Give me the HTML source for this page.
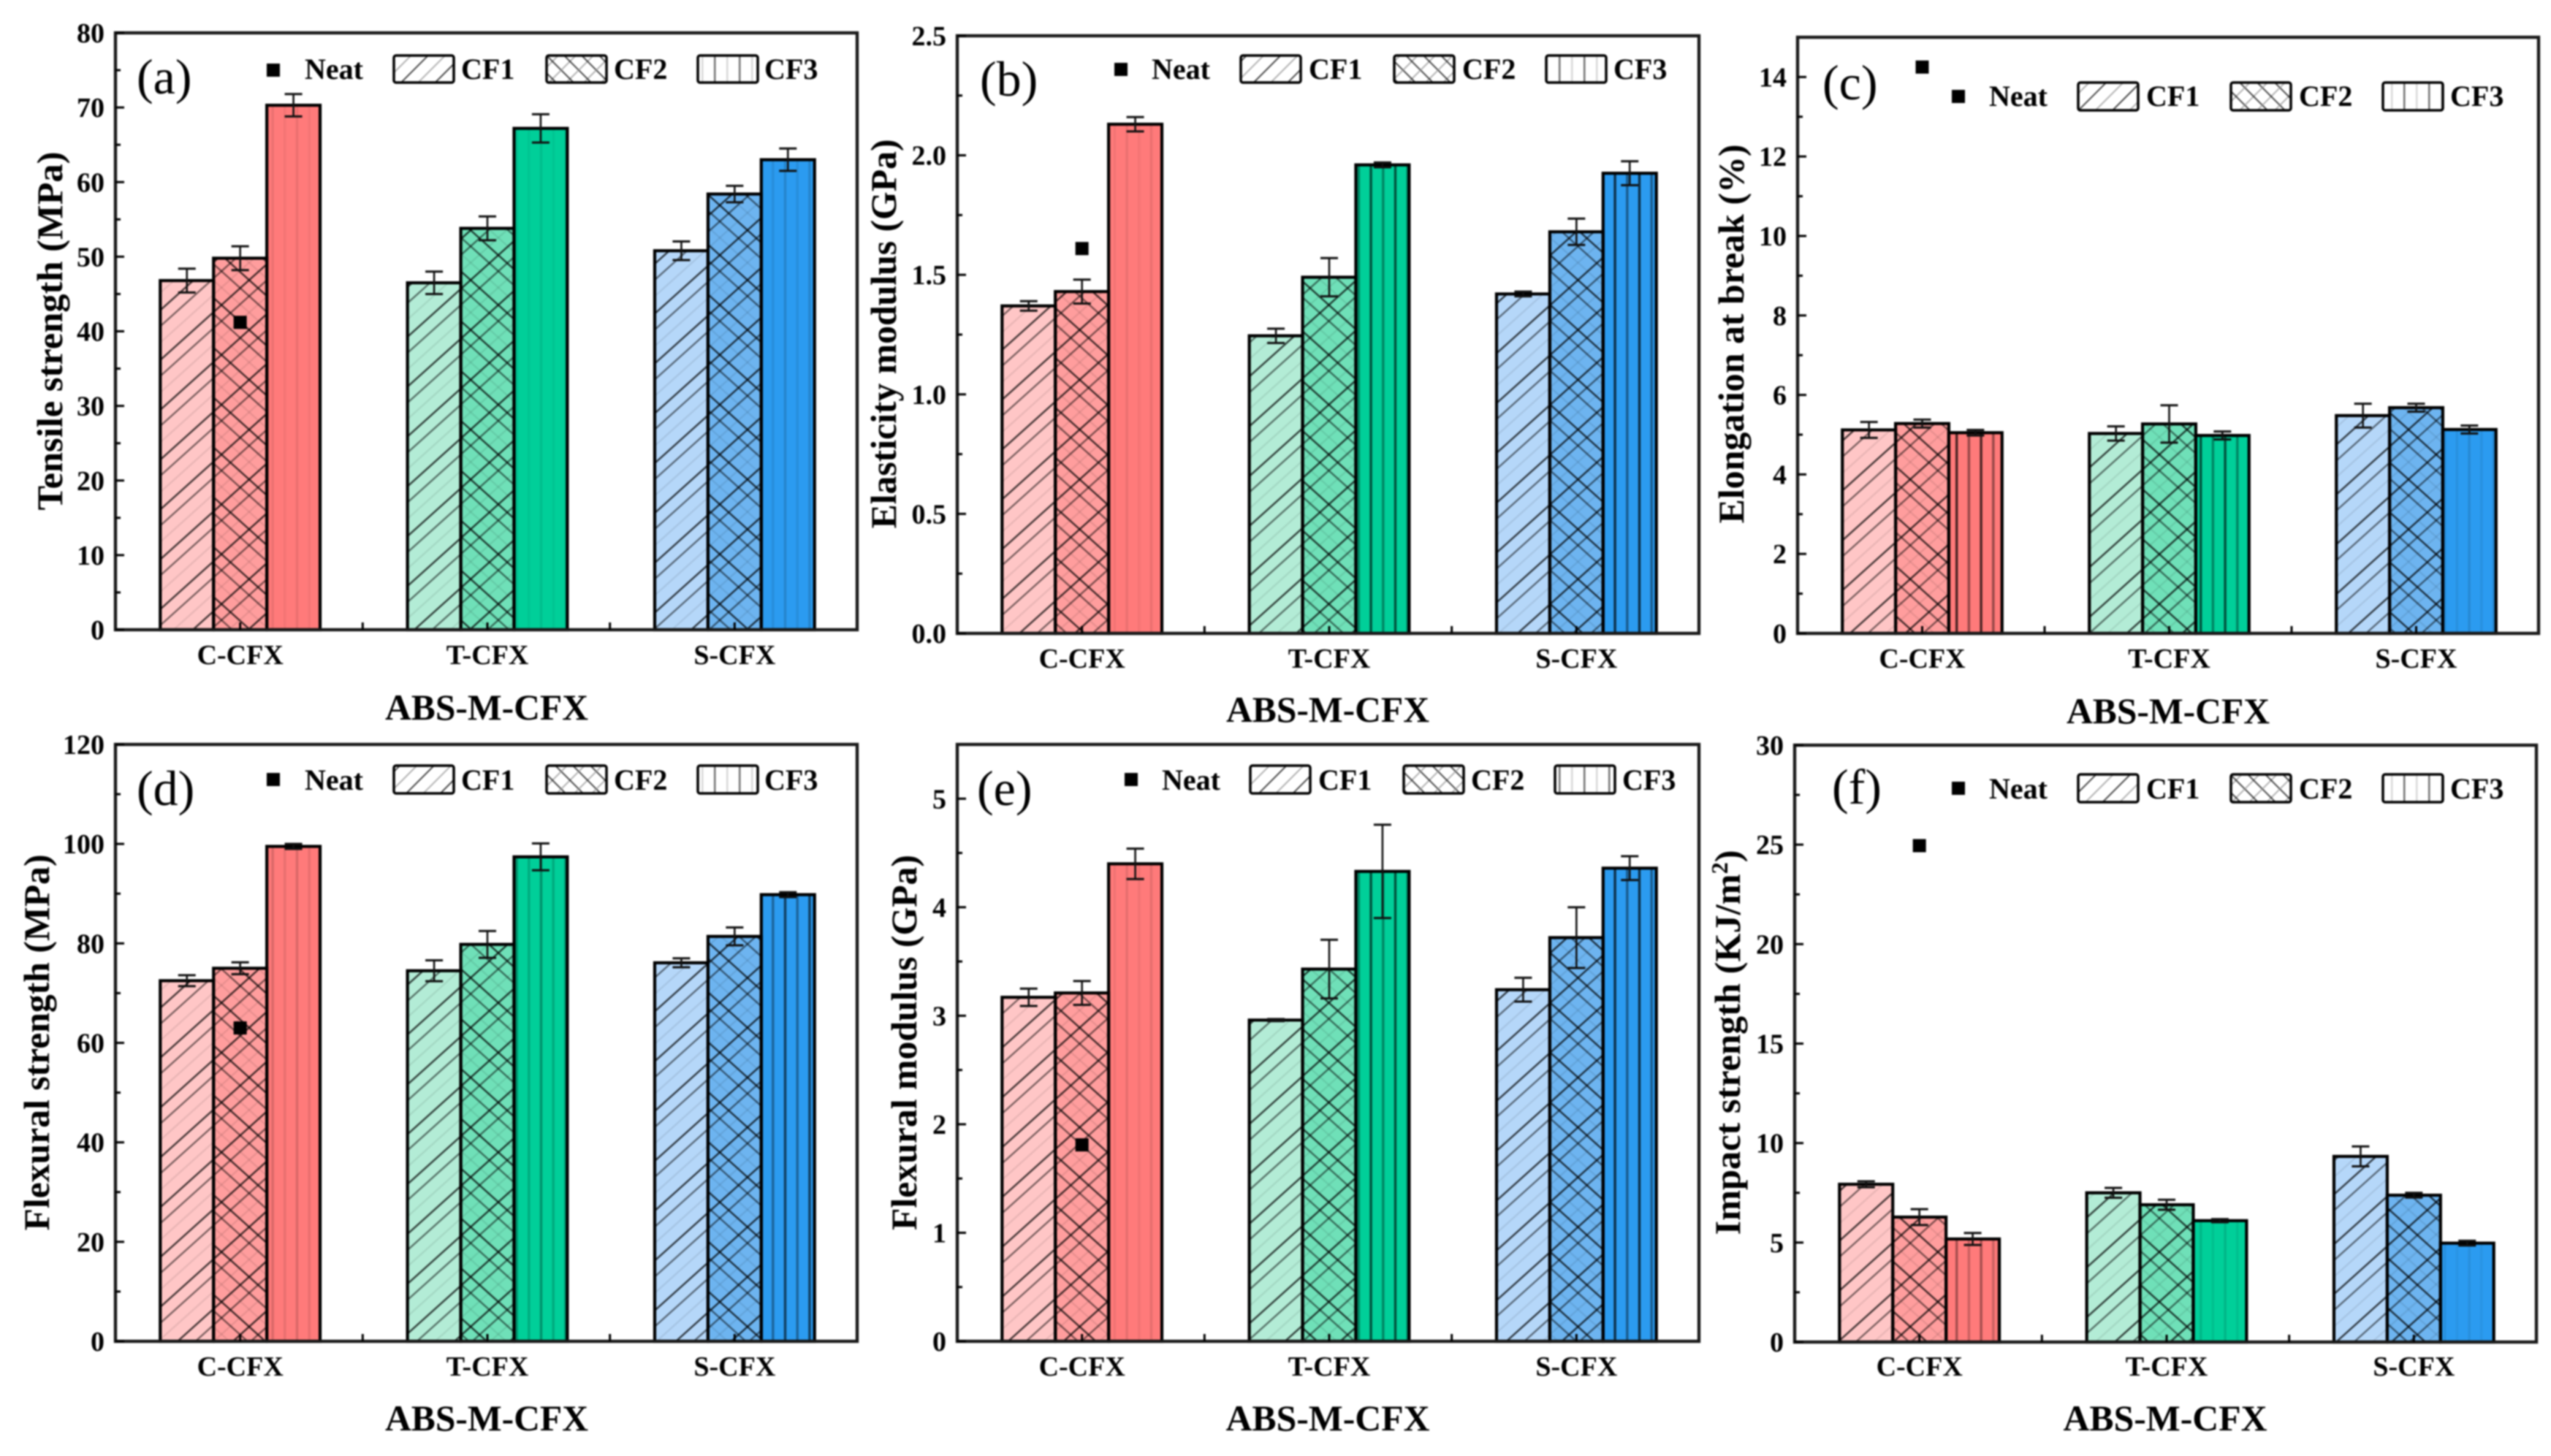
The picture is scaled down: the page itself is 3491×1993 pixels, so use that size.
<!DOCTYPE html>
<html lang="en">
<head>
<meta charset="utf-8">
<title>ABS-M-CFX mechanical properties</title>
<style>
html,body{margin:0;padding:0;background:#fff;width:3491px;height:1993px;overflow:hidden}
svg{display:block;filter:blur(1px)}
text{font-family:"Liberation Serif",serif;font-weight:700;fill:#000}
.legend{font-size:40px}
.title{font-size:50px}
.panel-label{font-size:68px;font-weight:400}
.tick{font-size:38px}
</style>
</head>
<body>
<svg id="figure" xmlns="http://www.w3.org/2000/svg" width="3491" height="1993" viewBox="0 0 3491 1993">
<defs>
<pattern id="hatch-up" width="50.7" height="50.7" patternUnits="userSpaceOnUse" patternTransform="rotate(-42)">
<line x1="0" x2="50.7" y1="6" y2="6" stroke="#000" stroke-width="2.4" stroke-opacity=".75"/>
<line x1="0" x2="50.7" y1="22.4" y2="22.4" stroke="#000" stroke-width="2.2" stroke-opacity=".55"/>
<line x1="0" x2="50.7" y1="39" y2="39" stroke="#000" stroke-width="2" stroke-opacity=".1"/>
</pattern>
<pattern id="hatch-down" width="50.7" height="50.7" patternUnits="userSpaceOnUse" patternTransform="rotate(42)">
<line x1="0" x2="50.7" y1="6" y2="6" stroke="#000" stroke-width="2.4" stroke-opacity=".75"/>
<line x1="0" x2="50.7" y1="22.4" y2="22.4" stroke="#000" stroke-width="2.2" stroke-opacity=".55"/>
<line x1="0" x2="50.7" y1="39" y2="39" stroke="#000" stroke-width="2" stroke-opacity=".1"/>
</pattern>
<pattern id="hatch-vert" width="33.4" height="10" patternUnits="userSpaceOnUse">
<rect x="4" y="0" width="3.4" height="10" fill="#000"/>
<rect x="20.7" y="0" width="3.4" height="10" fill="#000" fill-opacity=".6"/>
</pattern>
<pattern id="legend-cf1" width="33" height="33" patternUnits="userSpaceOnUse" patternTransform="rotate(-45)">
<rect width="33" height="33" fill="#fff"/>
<line x1="0" x2="33" y1="6" y2="6" stroke="#000" stroke-width="2" stroke-opacity=".7"/>
<line x1="0" x2="33" y1="22.5" y2="22.5" stroke="#000" stroke-width="2" stroke-opacity=".3"/>
</pattern>
<pattern id="legend-cf2" width="24" height="24" patternUnits="userSpaceOnUse">
<rect width="24" height="24" fill="#fff"/>
<line x1="0" y1="0" x2="24" y2="24" stroke="#000" stroke-width="2" stroke-opacity=".7"/>
<line x1="24" y1="0" x2="0" y2="24" stroke="#000" stroke-width="2" stroke-opacity=".3"/>
</pattern>
<pattern id="legend-cf3" width="34" height="10" patternUnits="userSpaceOnUse">
<rect width="34" height="10" fill="#fff"/>
<rect x="8" width="2.5" height="10" fill="#000" fill-opacity=".15"/>
<rect x="25" width="2.5" height="10" fill="#000" fill-opacity=".55"/>
</pattern>
</defs>

<g id="panel-a">
<text class="panel-label" x="187" y="128">(a)</text>
<text class="title" transform="rotate(-90 85 453)" x="85" y="453" text-anchor="middle" textLength="491" lengthAdjust="spacingAndGlyphs">Tensile strength (MPa)</text>
<text class="title" x="666" y="985" text-anchor="middle" textLength="278" lengthAdjust="spacingAndGlyphs">ABS-M-CFX</text>
<g>
<rect x="365" y="87" width="18" height="18" fill="#000"/>
<text class="legend" x="417" y="108">Neat</text>
<rect x="539" y="76" width="82" height="37" rx="3" fill="url(#legend-cf1)" stroke="#000" stroke-width="3.5"/>
<text class="legend" x="631" y="108">CF1</text>
<rect x="748" y="76" width="82" height="37" rx="3" fill="url(#legend-cf2)" stroke="#000" stroke-width="3.5"/>
<text class="legend" x="840" y="108">CF2</text>
<rect x="955" y="76" width="82" height="37" rx="3" fill="url(#legend-cf3)" stroke="#000" stroke-width="3.5"/>
<text class="legend" x="1046" y="108">CF3</text>
</g>
</g>

<g id="panel-b">
<text class="panel-label" x="1341" y="131">(b)</text>
<text class="title" transform="rotate(-90 1226 457)" x="1226" y="457" text-anchor="middle" textLength="533" lengthAdjust="spacingAndGlyphs">Elasticity modulus (GPa)</text>
<text class="title" x="1817" y="988" text-anchor="middle" textLength="278" lengthAdjust="spacingAndGlyphs">ABS-M-CFX</text>
<g>
<rect x="1525" y="86" width="18" height="18" fill="#000"/>
<text class="legend" x="1576" y="108">Neat</text>
<rect x="1698" y="76" width="82" height="37" rx="3" fill="url(#legend-cf1)" stroke="#000" stroke-width="3.5"/>
<text class="legend" x="1791" y="108">CF1</text>
<rect x="1908" y="76" width="82" height="37" rx="3" fill="url(#legend-cf2)" stroke="#000" stroke-width="3.5"/>
<text class="legend" x="2001" y="108">CF2</text>
<rect x="2116" y="76" width="82" height="37" rx="3" fill="url(#legend-cf3)" stroke="#000" stroke-width="3.5"/>
<text class="legend" x="2208" y="108">CF3</text>
</g>
</g>

<g id="panel-c">
<text class="panel-label" x="2494" y="136">(c)</text>
<text class="title" transform="rotate(-90 2386 457)" x="2386" y="457" text-anchor="middle" textLength="519" lengthAdjust="spacingAndGlyphs">Elongation at break (%)</text>
<text class="title" x="2967" y="990" text-anchor="middle" textLength="278" lengthAdjust="spacingAndGlyphs">ABS-M-CFX</text>
<g>
<rect x="2671" y="123" width="18" height="18" fill="#000"/>
<text class="legend" x="2722" y="145">Neat</text>
<rect x="2844" y="113" width="82" height="38" rx="3" fill="url(#legend-cf1)" stroke="#000" stroke-width="3.5"/>
<text class="legend" x="2937" y="145">CF1</text>
<rect x="3053" y="113" width="82" height="38" rx="3" fill="url(#legend-cf2)" stroke="#000" stroke-width="3.5"/>
<text class="legend" x="3146" y="145">CF2</text>
<rect x="3261" y="113" width="82" height="38" rx="3" fill="url(#legend-cf3)" stroke="#000" stroke-width="3.5"/>
<text class="legend" x="3353" y="145">CF3</text>
</g>
</g>

<g id="panel-d">
<text class="panel-label" x="187" y="1102">(d)</text>
<text class="title" transform="rotate(-90 67 1427)" x="67" y="1427" text-anchor="middle" textLength="515" lengthAdjust="spacingAndGlyphs">Flexural strength (MPa)</text>
<text class="title" x="666" y="1958" text-anchor="middle" textLength="278" lengthAdjust="spacingAndGlyphs">ABS-M-CFX</text>
<g>
<rect x="365" y="1058" width="18" height="18" fill="#000"/>
<text class="legend" x="417" y="1081">Neat</text>
<rect x="539" y="1048" width="82" height="38" rx="3" fill="url(#legend-cf1)" stroke="#000" stroke-width="3.5"/>
<text class="legend" x="631" y="1081">CF1</text>
<rect x="748" y="1048" width="82" height="38" rx="3" fill="url(#legend-cf2)" stroke="#000" stroke-width="3.5"/>
<text class="legend" x="840" y="1081">CF2</text>
<rect x="955" y="1048" width="82" height="38" rx="3" fill="url(#legend-cf3)" stroke="#000" stroke-width="3.5"/>
<text class="legend" x="1046" y="1081">CF3</text>
</g>
</g>

<g id="panel-e">
<text class="panel-label" x="1337" y="1102">(e)</text>
<text class="title" transform="rotate(-90 1254 1427)" x="1254" y="1427" text-anchor="middle" textLength="514" lengthAdjust="spacingAndGlyphs">Flexural modulus (GPa)</text>
<text class="title" x="1817" y="1958" text-anchor="middle" textLength="279" lengthAdjust="spacingAndGlyphs">ABS-M-CFX</text>
<g>
<rect x="1539" y="1058" width="18" height="18" fill="#000"/>
<text class="legend" x="1590" y="1081">Neat</text>
<rect x="1711" y="1048" width="82" height="38" rx="3" fill="url(#legend-cf1)" stroke="#000" stroke-width="3.5"/>
<text class="legend" x="1804" y="1081">CF1</text>
<rect x="1921" y="1048" width="82" height="38" rx="3" fill="url(#legend-cf2)" stroke="#000" stroke-width="3.5"/>
<text class="legend" x="2013" y="1081">CF2</text>
<rect x="2128" y="1048" width="82" height="38" rx="3" fill="url(#legend-cf3)" stroke="#000" stroke-width="3.5"/>
<text class="legend" x="2220" y="1081">CF3</text>
</g>
</g>

<g id="panel-f">
<text class="panel-label" x="2507" y="1100">(f)</text>
<text class="title" transform="rotate(-90 2381 1427)" x="2381" y="1427" text-anchor="middle" textLength="527" lengthAdjust="spacingAndGlyphs">Impact strength (KJ/m<tspan dy="-17" font-size="32">2</tspan><tspan dy="17">)</tspan></text>
<text class="title" x="2963" y="1958" text-anchor="middle" textLength="279" lengthAdjust="spacingAndGlyphs">ABS-M-CFX</text>
<g>
<rect x="2671" y="1070" width="18" height="18" fill="#000"/>
<text class="legend" x="2722" y="1093">Neat</text>
<rect x="2844" y="1060" width="82" height="38" rx="3" fill="url(#legend-cf1)" stroke="#000" stroke-width="3.5"/>
<text class="legend" x="2937" y="1093">CF1</text>
<rect x="3053" y="1060" width="82" height="38" rx="3" fill="url(#legend-cf2)" stroke="#000" stroke-width="3.5"/>
<text class="legend" x="3146" y="1093">CF2</text>
<rect x="3261" y="1060" width="82" height="38" rx="3" fill="url(#legend-cf3)" stroke="#000" stroke-width="3.5"/>
<text class="legend" x="3353" y="1093">CF3</text>
</g>
</g>
</svg>

<script>
const categories = ['C-CFX', 'T-CFX', 'S-CFX'];

const tensileTicks = ['0', '10', '20', '30', '40', '50', '60', '70', '80'];
const tensileCF1 = [46.8, 46.5, 50.8];
const tensileCF2 = [49.8, 53.8, 58.4];
const tensileCF3 = [70.3, 67.2, 63.0];
const tensileErrCF1 = [1.6, 1.5, 1.25];
const tensileErrCF2 = [1.6, 1.6, 1.1];
const tensileErrCF3 = [1.5, 1.9, 1.5];
const tensileNeat = [41.2];

const elasticityTicks = ['0.0', '0.5', '1.0', '1.5', '2.0', '2.5'];
const elasticityCF1 = [1.37, 1.245, 1.42];
const elasticityCF2 = [1.43, 1.49, 1.68];
const elasticityCF3 = [2.13, 1.96, 1.925];
const elasticityErrCF1 = [0.02, 0.03, 0.01];
const elasticityErrCF2 = [0.05, 0.08, 0.055];
const elasticityErrCF3 = [0.03, 0.01, 0.05];
const elasticityNeat = [1.61];

const elongationTicks = ['0', '2', '4', '6', '8', '10', '12', '14'];
const elongationCF1 = [5.12, 5.03, 5.48];
const elongationCF2 = [5.28, 5.27, 5.68];
const elongationCF3 = [5.05, 4.98, 5.13];
const elongationErrCF1 = [0.2, 0.18, 0.3];
const elongationErrCF2 = [0.1, 0.47, 0.1];
const elongationErrCF3 = [0.07, 0.1, 0.1];
const elongationNeat = [14.25];

const flexStrengthTicks = ['0', '20', '40', '60', '80', '100', '120'];
const flexStrengthCF1 = [72.5, 74.5, 76.1];
const flexStrengthCF2 = [75.0, 79.8, 81.4];
const flexStrengthCF3 = [99.5, 97.4, 89.8];
const flexStrengthErrCF1 = [1.1, 2.1, 0.9];
const flexStrengthErrCF2 = [1.2, 2.7, 1.8];
const flexStrengthErrCF3 = [0.5, 2.7, 0.5];
const flexStrengthNeat = [63];

const flexModulusTicks = ['0', '1', '2', '3', '4', '5'];
const flexModulusCF1 = [3.17, 2.96, 3.24];
const flexModulusCF2 = [3.21, 3.43, 3.72];
const flexModulusCF3 = [4.40, 4.33, 4.36];
const flexModulusErrCF1 = [0.08, 0.01, 0.11];
const flexModulusErrCF2 = [0.11, 0.27, 0.28];
const flexModulusErrCF3 = [0.14, 0.43, 0.11];
const flexModulusNeat = [1.81];

const impactTicks = ['0', '5', '10', '15', '20', '25', '30'];
const impactCF1 = [7.93, 7.5, 9.33];
const impactCF2 = [6.28, 6.9, 7.38];
const impactCF3 = [5.18, 6.1, 4.97];
const impactErrCF1 = [0.15, 0.25, 0.5];
const impactErrCF2 = [0.4, 0.25, 0.12];
const impactErrCF3 = [0.3, 0.08, 0.12];
const impactNeat = [24.95];

const SVG_NS = 'http://www.w3.org/2000/svg';
const barFills = [
  ['#ffc6c6', '#ff9d9d', '#ff7a7a'],
  ['#b3ecd6', '#6fe0b8', '#00cf99'],
  ['#b5d7f9', '#6db4f0', '#2b9bf0']
];

function make(tag, attrs, parent) {
  const el = document.createElementNS(SVG_NS, tag);
  for (const k in attrs) el.setAttribute(k, attrs[k]);
  parent.appendChild(el);
  return el;
}

function drawPanel(p) {
  const root = document.getElementById(p.id);
  const first = root.firstElementChild;
  const marks = document.createElementNS(SVG_NS, 'g');
  
  
  root.insertBefore(marks, first);

  const yScale = v => p.bottom - (v / p.yMax) * (p.bottom - p.top);
  const band = (p.right - p.left) / categories.length;
  const xCenter = i => p.left + band * (i + 0.5) + 1.5;
  const barW = band * 0.2155;
  const seriesValues = [p.cf1, p.cf2, p.cf3];
  const seriesErrors = [p.err1, p.err2, p.err3];

  seriesValues.forEach((values, s) => {
    values.forEach((v, c) => {
      const x = xCenter(c) + (s - 1.5) * barW;
      const y = yScale(v);
      const h = p.bottom - y;
      const fill = make('rect', {x: x, y: y, width: barW, height: h, fill: barFills[c][s]}, marks);
      
      
      if (s === 0 || s === 1) {
        const up = make('rect', {x: x, y: y, width: barW, height: h, fill: 'url(#hatch-up)'}, marks);
        
        
      }
      if (s === 1) {
        const down = make('rect', {x: x, y: y, width: barW, height: h, fill: 'url(#hatch-down)'}, marks);
        
        
      }
      if (s === 2) {
        const vert = make('rect', {x: x, y: y, width: barW, height: h, fill: 'url(#hatch-vert)', opacity: p.vertAlpha[c]}, marks);
        
        
      }
    });
  });

  seriesValues.forEach((values, s) => {
    values.forEach((v, c) => {
      const x = xCenter(c) + (s - 1.5) * barW;
      const y = yScale(v);
      const outline = make('rect', {x: x, y: y, width: barW, height: p.bottom - y, fill: 'none', stroke: '#000', 'stroke-width': 4.2}, marks);
      
      
    });
  });

  seriesValues.forEach((values, s) => {
    values.forEach((v, c) => {
      const cx = xCenter(c) + (s - 1) * barW;
      const e = seriesErrors[s][c];
      const yHi = yScale(v + e);
      const yLo = yScale(v - e);
      const stem = make('line', {x1: cx, x2: cx, y1: yHi, y2: yLo, stroke: '#111', 'stroke-width': 2.6}, marks);
      
      
      const capHi = make('line', {x1: cx - 12, x2: cx + 12, y1: yHi, y2: yHi, stroke: '#111', 'stroke-width': 3}, marks);
      
      
      const capLo = make('line', {x1: cx - 12, x2: cx + 12, y1: yLo, y2: yLo, stroke: '#111', 'stroke-width': 3}, marks);
      
      
    });
  });

  p.neat.forEach((v, i) => {
    const neat = make('rect', {x: xCenter(i) - 9, y: yScale(v) - 9, width: 18, height: 18, fill: '#000'}, marks);
    
    
  });

  const frame = make('rect', {x: p.left, y: p.top, width: p.right - p.left, height: p.bottom - p.top, fill: 'none', stroke: '#1a1a1a', 'stroke-width': 4.4}, marks);
  
  

  p.ticks.forEach((label, i) => {
    const v = Number(label);
    const y = yScale(v);
    const tick = make('line', {x1: p.left, x2: p.left + 12, y1: y, y2: y, stroke: '#000', 'stroke-width': 3}, marks);
    
    
    const t = make('text', {class: 'tick', x: p.left - 15, y: y + 13, 'text-anchor': 'end'}, marks);
    
    
    t.textContent = label;
    if (i < p.ticks.length - 1) {
      const ym = yScale((v + Number(p.ticks[i + 1])) / 2);
      const minor = make('line', {x1: p.left, x2: p.left + 7, y1: ym, y2: ym, stroke: '#000', 'stroke-width': 3}, marks);
      
      
    }
  });

  categories.forEach((name, i) => {
    const cx = xCenter(i);
    const centerTick = make('line', {x1: cx, x2: cx, y1: p.bottom, y2: p.bottom - 10, stroke: '#000', 'stroke-width': 3}, marks);
    
    
    if (i > 0) {
      const edge = p.left + band * i;
      const edgeTick = make('line', {x1: edge, x2: edge, y1: p.bottom, y2: p.bottom - 10, stroke: '#000', 'stroke-width': 3}, marks);
      
      
    }
    const t = make('text', {class: 'tick', x: cx, y: p.catY, 'text-anchor': 'middle'}, marks);
    
    
    t.textContent = name;
  });
}

const panels = [
  {id: 'panel-a', left: 158, right: 1173, top: 45, bottom: 862, yMax: 80, catY: 909, ticks: tensileTicks, cf1: tensileCF1, cf2: tensileCF2, cf3: tensileCF3, err1: tensileErrCF1, err2: tensileErrCF2, err3: tensileErrCF3, neat: tensileNeat, vertAlpha: [0.08, 0.08, 0.15]},
  {id: 'panel-b', left: 1310, right: 2325, top: 49, bottom: 867, yMax: 2.5, catY: 914, ticks: elasticityTicks, cf1: elasticityCF1, cf2: elasticityCF2, cf3: elasticityCF3, err1: elasticityErrCF1, err2: elasticityErrCF2, err3: elasticityErrCF3, neat: elasticityNeat, vertAlpha: [0.08, 0.6, 0.7]},
  {id: 'panel-c', left: 2460, right: 3474, top: 51, bottom: 867, yMax: 15, catY: 914, ticks: elongationTicks, cf1: elongationCF1, cf2: elongationCF2, cf3: elongationCF3, err1: elongationErrCF1, err2: elongationErrCF2, err3: elongationErrCF3, neat: elongationNeat, vertAlpha: [0.7, 0.6, 0.12]},
  {id: 'panel-d', left: 158, right: 1173, top: 1019, bottom: 1836, yMax: 120, catY: 1883, ticks: flexStrengthTicks, cf1: flexStrengthCF1, cf2: flexStrengthCF2, cf3: flexStrengthCF3, err1: flexStrengthErrCF1, err2: flexStrengthErrCF2, err3: flexStrengthErrCF3, neat: flexStrengthNeat, vertAlpha: [0.15, 0.3, 0.6]},
  {id: 'panel-e', left: 1310, right: 2325, top: 1019, bottom: 1836, yMax: 5.5, catY: 1883, ticks: flexModulusTicks, cf1: flexModulusCF1, cf2: flexModulusCF2, cf3: flexModulusCF3, err1: flexModulusErrCF1, err2: flexModulusErrCF2, err3: flexModulusErrCF3, neat: flexModulusNeat, vertAlpha: [0.1, 0.6, 0.7]},
  {id: 'panel-f', left: 2456, right: 3471, top: 1020, bottom: 1837, yMax: 30, catY: 1883, ticks: impactTicks, cf1: impactCF1, cf2: impactCF2, cf3: impactCF3, err1: impactErrCF1, err2: impactErrCF2, err3: impactErrCF3, neat: impactNeat, vertAlpha: [0.35, 0.12, 0.08]}
];

panels.forEach(drawPanel);
</script>
</body>
</html>
